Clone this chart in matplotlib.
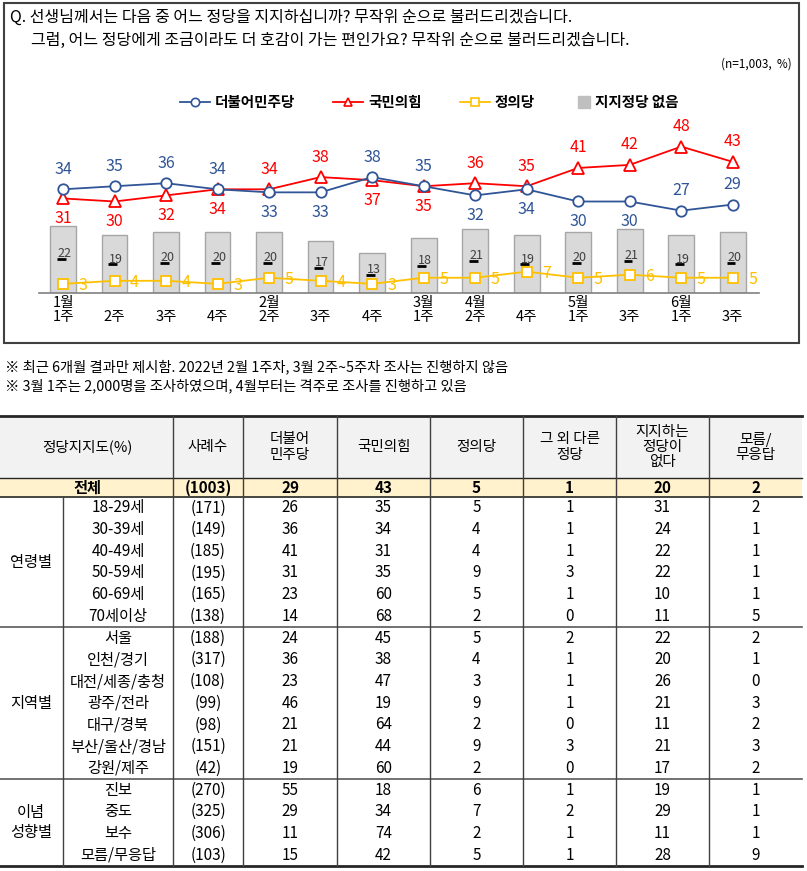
import matplotlib
matplotlib.use("Agg")
import matplotlib.pyplot as plt
from matplotlib.patches import Rectangle

plt.rcParams['font.family'] = ['Noto Sans CJK KR', 'DejaVu Sans']

# ---- 추이 데이터 ----
months = ["1월", "", "", "", "2월", "", "", "3월", "4월", "", "5월", "", "6월", ""]
weeks = ["1주", "2주", "3주", "4주", "2주", "3주", "4주", "1주", "2주", "4주", "1주", "3주", "1주", "3주"]
minjoo = [34, 35, 36, 34, 33, 33, 38, 35, 32, 34, 30, 30, 27, 29]
ppp = [31, 30, 32, 34, 34, 38, 37, 35, 36, 35, 41, 42, 48, 43]
justice = [3, 4, 4, 3, 5, 4, 3, 5, 5, 7, 5, 6, 5, 5]
none_party = [22, 19, 20, 20, 20, 17, 13, 18, 21, 19, 20, 21, 19, 20]
# 라벨 위치 (True = 위)
minjoo_up = [True, True, True, True, False, False, True, True, False, False, False, False, True, True]
ppp_up = [False, False, False, False, True, True, False, False, True, True, True, True, True, True]

# ---- 표 데이터 ----
header = ["사례수", "더불어\n민주당", "국민의힘", "정의당", "그 외 다른\n정당", "지지하는\n정당이\n없다", "모름/\n무응답"]
total_row = ["(1003)", "29", "43", "5", "1", "20", "2"]
groups = ["연령별", "지역별", "이념\n성향별"]
group_sizes = [6, 7, 4]
sub_labels = ["18-29세", "30-39세", "40-49세", "50-59세", "60-69세", "70세이상",
              "서울", "인천/경기", "대전/세종/충청", "광주/전라", "대구/경북", "부산/울산/경남", "강원/제주",
              "진보", "중도", "보수", "모름/무응답"]
counts = ["(171)", "(149)", "(185)", "(195)", "(165)", "(138)",
          "(188)", "(317)", "(108)", "(99)", "(98)", "(151)", "(42)",
          "(270)", "(325)", "(306)", "(103)"]
col_minjoo = [26, 36, 41, 31, 23, 14, 24, 36, 23, 46, 21, 21, 19, 55, 29, 11, 15]
col_ppp = [35, 34, 31, 35, 60, 68, 45, 38, 47, 19, 64, 44, 60, 18, 34, 74, 42]
col_justice = [5, 4, 4, 9, 5, 2, 5, 4, 3, 9, 2, 9, 2, 6, 7, 2, 5]
col_other = [1, 1, 1, 3, 1, 0, 2, 1, 1, 1, 0, 3, 0, 1, 2, 1, 1]
col_none = [31, 24, 22, 22, 10, 11, 22, 20, 26, 21, 11, 21, 17, 19, 29, 11, 28]
col_dk = [2, 1, 1, 1, 1, 5, 2, 1, 0, 3, 2, 3, 2, 1, 1, 1, 9]

BLUE = "#2f5597"
RED = "#ff0000"
YELLOW = "#ffc000"

W, H = 807, 871
fig = plt.figure(figsize=(W / 100, H / 100), dpi=100)

# 픽셀 좌표용 배경 축
bg = fig.add_axes([0, 0, 1, 1], zorder=0)
bg.set_xlim(0, W)
bg.set_ylim(H, 0)
bg.axis("off")

# 그래프 박스
bg.add_patch(Rectangle((4, 3), 795, 340, fill=False, edgecolor="#404040", lw=1.5))
bg.text(10, 17, "Q. 선생님께서는 다음 중 어느 정당을 지지하십니까? 무작위 순으로 불러드리겠습니다.",
        fontsize=11.5, va="center", ha="left")
bg.text(31, 40, "그럼, 어느 정당에게 조금이라도 더 호감이 가는 편인가요? 무작위 순으로 불러드리겠습니다.",
        fontsize=11.5, va="center", ha="left")
bg.text(792, 64, "(n=1,003,  %)", fontsize=8.5, va="center", ha="right")

# 범례 (수동 배치)
leg_y = 102
legend_items = [(180, BLUE, "o", "더불어민주당"), (333, RED, "^", "국민의힘"), (460, YELLOW, "s", "정의당")]
for x0, c, m, lab in legend_items:
    bg.plot([x0, x0 + 30], [leg_y, leg_y], color=c, lw=1.3)
    bg.plot([x0 + 15], [leg_y], marker=m, ms=6, mfc="white", mec=c, mew=1.2)
    bg.text(x0 + 35, leg_y, lab, fontsize=10.5, fontweight="bold", va="center", ha="left")
bg.plot([584], [leg_y], marker="s", ms=8, color="#bfbfbf", ls="none")
bg.text(595, leg_y, "지지정당 없음", fontsize=10.5, fontweight="bold", va="center", ha="left")

# 주석
bg.text(5, 367, "※ 최근 6개월 결과만 제시함. 2022년 2월 1주차, 3월 2주~5주차 조사는 진행하지 않음",
        fontsize=10.3, va="center", ha="left")
bg.text(5, 386, "※ 3월 1주는 2,000명을 조사하였으며, 4월부터는 격주로 조사를 진행하고 있음",
        fontsize=10.3, va="center", ha="left")

# ---- 추이 그래프 ----
ax_l, ax_r, ax_b, ax_t = 39, 759, 293, 130
ax = fig.add_axes([ax_l / W, 1 - ax_b / H, (ax_r - ax_l) / W, (ax_b - ax_t) / H], zorder=1)
ax.patch.set_visible(False)
x = list(range(len(weeks)))
ax.set_xlim(-0.466, 13.51)
ax.set_ylim(0, (ax_b - ax_t) / 3.05)

ax.bar(x, none_party, width=0.5, color="#d9d9d9", edgecolor="#a6a6a6", lw=1, zorder=1)
for i, v in enumerate(none_party):
    ax.text(i + 0.03, v * 0.57 + 0.3, str(v), fontsize=9, style="italic", color="#404040",
            ha="center", va="center", zorder=2)
    ax.plot([i - 0.12, i + 0.05], [v * 0.57 - 1.45, v * 0.57 - 1.45], color="black", lw=2,
            solid_capstyle="butt", zorder=2)

ax.plot(x, justice, color=YELLOW, lw=1.3, marker="s", ms=7.5, mfc="white", mec=YELLOW, mew=1.3, zorder=3)
ax.plot(x, ppp, color=RED, lw=1.3, marker="^", ms=9, mfc="white", mec=RED, mew=1.3, zorder=4)
ax.plot(x, minjoo, color=BLUE, lw=1.3, marker="o", ms=7.5, mfc="white", mec=BLUE, mew=1.3, zorder=5)

for i in x:
    dy = 20 if minjoo_up[i] else -20
    ax.annotate(str(minjoo[i]), (i, minjoo[i]), xytext=(0, dy), textcoords="offset pixels",
                ha="center", va="center", color=BLUE, fontsize=11.5)
    dy = 20 if ppp_up[i] else -20
    ax.annotate(str(ppp[i]), (i, ppp[i]), xytext=(0, dy), textcoords="offset pixels",
                ha="center", va="center", color=RED, fontsize=11.5)
    ax.annotate(str(justice[i]), (i, justice[i]), xytext=(20, -2), textcoords="offset pixels",
                ha="center", va="center", color=YELLOW, fontsize=11.5)

for s in ["top", "right", "left"]:
    ax.spines[s].set_visible(False)
ax.spines["bottom"].set_color("#808080")
ax.spines["bottom"].set_linewidth(1.2)
ax.set_yticks([])
ax.set_xticks(x)
ax.set_xticklabels([m + "\n" + w for m, w in zip(months, weeks)], fontsize=10.5, linespacing=1.0)
ax.tick_params(axis="x", length=0, pad=2)

# ---- 표 ----
t_top, h_bot, tot_bot, t_bot = 416, 478, 497, 866
vlines = [173, 243, 337, 430, 523, 616, 709]
right_edge = 802
centers = [(a + b) / 2 for a, b in zip(vlines, vlines[1:] + [right_edge])]
row_h = (t_bot - tot_bot) / len(sub_labels)

bg.add_patch(Rectangle((0, t_top), right_edge, h_bot - t_top, color="#f2f2f2", lw=0))
bg.add_patch(Rectangle((0, h_bot), right_edge, tot_bot - h_bot, color="#fff2cc", lw=0))

bg.text(87, (t_top + h_bot) / 2, "정당지지도(%)", fontsize=10.5, ha="center", va="center")
for cx, lab in zip(centers, header):
    bg.text(cx, (t_top + h_bot) / 2, lab, fontsize=10.5, ha="center", va="center", linespacing=1.1)

bg.text(87, (h_bot + tot_bot) / 2, "전체", fontsize=11, fontweight="bold", ha="center", va="center")
for cx, val in zip(centers, total_row):
    bg.text(cx, (h_bot + tot_bot) / 2, val, fontsize=11, fontweight="bold", ha="center", va="center")

columns = [counts, col_minjoo, col_ppp, col_justice, col_other, col_none, col_dk]
for r, lab in enumerate(sub_labels):
    yc = tot_bot + (r + 0.5) * row_h
    bg.text(118, yc, lab, fontsize=11, ha="center", va="center")
    for cx, col in zip(centers, columns):
        bg.text(cx, yc, str(col[r]), fontsize=11, ha="center", va="center")

start = 0
for g, n in zip(groups, group_sizes):
    y0 = tot_bot + start * row_h
    y1 = tot_bot + (start + n) * row_h
    bg.text(31, (y0 + y1) / 2, g, fontsize=11, ha="center", va="center", linespacing=1.2)
    if start + n < len(sub_labels):
        bg.plot([0, right_edge], [y1, y1], color="#595959", lw=1.2)
    start += n

bg.plot([0, right_edge], [t_top, t_top], color="#262626", lw=2)
bg.plot([0, right_edge], [h_bot, h_bot], color="#262626", lw=1)
bg.plot([0, right_edge], [tot_bot, tot_bot], color="#262626", lw=1.2)
bg.plot([0, right_edge], [t_bot, t_bot], color="#262626", lw=2)
for vx in vlines:
    bg.plot([vx, vx], [t_top, t_bot], color="#404040", lw=1)
bg.plot([63, 63], [tot_bot, t_bot], color="#404040", lw=1)

fig.savefig("out.png", dpi=100)
